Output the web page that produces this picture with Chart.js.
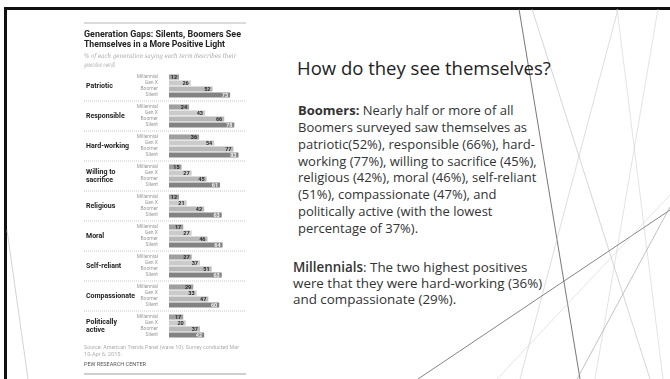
<!DOCTYPE html>
<html>
<head>
<meta charset="utf-8">
<script src="https://cdn.jsdelivr.net/npm/chart.js@4"></script>
<style>
  html, body { margin: 0; padding: 0; background: #fff; }
  #slide { position: relative; width: 670px; height: 379px; overflow: hidden; background: #fff; }
  #deco { position: absolute; left: 0; top: 0; }
  #chartBox { position: absolute; left: 80px; top: 18px; width: 172px; height: 361px; }
</style>
</head>
<body>
<div id="slide">
  <svg id="deco" width="670" height="379" xmlns="http://www.w3.org/2000/svg">
    <!-- slide frame -->
    <rect x="4" y="7" width="666" height="3" fill="#111"/>
    <rect x="4" y="7" width="3" height="372" fill="#111"/>
    <!-- theme lines -->
    <g fill="none">
      <line x1="519" y1="9" x2="580" y2="379" stroke="#555" stroke-width="0.8"/>
      <line x1="532" y1="9" x2="650" y2="379" stroke="#bbb" stroke-width="0.6"/>
      <line x1="618" y1="9" x2="520" y2="379" stroke="#c8c8c8" stroke-width="0.6"/>
      <line x1="617" y1="9" x2="663" y2="379" stroke="#d0d0d0" stroke-width="0.6"/>
      <line x1="658" y1="9" x2="595" y2="379" stroke="#d0d0d0" stroke-width="0.6"/>
      <line x1="418" y1="379" x2="670" y2="210" stroke="#666" stroke-width="0.8"/>
      <line x1="497" y1="379" x2="670" y2="195" stroke="#d4d4d4" stroke-width="0.6"/>
      <line x1="577" y1="379" x2="670" y2="207" stroke="#999" stroke-width="0.6"/>
      <line x1="7" y1="230" x2="28" y2="379" stroke="#c8c8c8" stroke-width="0.8"/>
    </g>
    <g font-family="Open Sans, sans-serif" fill="#222">
      <text x="297" y="75" font-size="18.5">How do they see themselves?</text>
      <g font-size="13" fill="#333">
        <text x="298" y="115"><tspan font-weight="bold">Boomers:</tspan> Nearly half or more of all</text>
        <text x="298" y="132">Boomers surveyed saw themselves as</text>
        <text x="298" y="149">patriotic(52%), responsible (66%), hard-</text>
        <text x="298" y="166">working (77%), willing to sacrifice (45%),</text>
        <text x="298" y="182">religious (42%), moral (46%), self-reliant</text>
        <text x="298" y="199">(51%), compassionate (47%), and</text>
        <text x="298" y="216">politically active (with the lowest</text>
        <text x="298" y="233">percentage of 37%).</text>
      </g>
      <g font-size="13.4" fill="#333">
        <text x="293" y="272"><tspan font-weight="600">Millennials</tspan>: The two highest positives</text>
        <text x="293" y="288">were that they were hard-working (36%)</text>
        <text x="293" y="304">and compassionate (29%).</text>
      </g>
    </g>
  </svg>
  <div id="chartBox"><canvas id="genChart"></canvas></div>
</div>

<script>
// --- Data ---
const categories = ['Patriotic', 'Responsible', 'Hard-working', 'Willing to\nsacrifice', 'Religious',
                    'Moral', 'Self-reliant', 'Compassionate', 'Politically\nactive'];
const generations = ['Millennial', 'Gen X', 'Boomer', 'Silent'];
const millennialValues = [12, 24, 36, 15, 12, 17, 27, 29, 17];
const genXValues = [26, 43, 54, 27, 21, 27, 37, 33, 20];
const boomerValues = [52, 66, 77, 45, 42, 46, 51, 47, 37];
const silentValues = [73, 78, 83, 61, 63, 64, 63, 60, 42];

const chartTitle = ['Generation Gaps: Silents, Boomers See', 'Themselves in a More Positive Light'];
const chartSubtitle = ['% of each generation saying each term describes their', 'generation overall'];
const sourceNote = ['Source: American Trends Panel (wave 10). Survey conducted Mar', '10-Apr 6, 2015.'];
const creditLine = 'PEW RESEARCH CENTER';

const genColors = ['#a0a0a0', '#cbcbcb', '#b8b8b8', '#838383'];
const valueColors = ['#2a2a2a', '#2a2a2a', '#2a2a2a', '#f4f4f4'];

// --- Build flat rows: 4 generation rows per term + an empty spacer row ---
const series = [millennialValues, genXValues, boomerValues, silentValues];
const rowLabels = [];
const rowValues = [];
const rowColors = [];
const rowGen = [];
categories.forEach((cat, i) => {
    generations.forEach((g, j) => {
        rowLabels.push(g);
        rowValues.push(series[j][i]);
        rowColors.push(genColors[j]);
        rowGen.push(j);
    });
    if (i < categories.length - 1) {
        rowLabels.push('');
        rowValues.push(null);
        rowColors.push('transparent');
        rowGen.push(-1);
    }
});

// canvas offset on the slide
const OX = 80, OY = 18;

const pewDecor = {
    id: 'pewDecor',
    afterDatasetsDraw(chart) {
        const ctx = chart.ctx;
        const xs = chart.scales.x, ys = chart.scales.y;
        const left = 84 - OX, right = 246 - OX;
        ctx.save();

        // top rule
        ctx.strokeStyle = '#cfcfcf';
        ctx.lineWidth = 1.5;
        ctx.beginPath(); ctx.moveTo(left, 23 - OY); ctx.lineTo(right, 23 - OY); ctx.stroke();
        // bottom rule
        ctx.lineWidth = 2;
        ctx.beginPath(); ctx.moveTo(left, 374 - OY); ctx.lineTo(right, 374 - OY); ctx.stroke();

        // title (squeezed to the condensed width of the original)
        ctx.fillStyle = '#222';
        ctx.textAlign = 'left';
        ctx.textBaseline = 'alphabetic';
        ctx.font = 'bold 9px Roboto, sans-serif';
        ctx.fillText(chartTitle[0], left, 37 - OY, 157);
        ctx.fillText(chartTitle[1], left, 47 - OY, 141);
        // subtitle
        ctx.fillStyle = '#a8a8a8';
        ctx.font = 'italic 6.5px "DejaVu Serif", serif';
        ctx.fillText(chartSubtitle[0], left, 58 - OY, 152);
        ctx.fillText(chartSubtitle[1], left, 66.5 - OY, 31);

        // dotted separators between groups
        ctx.strokeStyle = '#b8b8b8';
        ctx.lineWidth = 0.8;
        ctx.setLineDash([1, 1]);
        rowGen.forEach((g, r) => {
            if (g === -1) {
                const y = ys.getPixelForValue(r);
                ctx.beginPath(); ctx.moveTo(left, y); ctx.lineTo(right, y); ctx.stroke();
            }
        });
        ctx.setLineDash([]);

        // category labels
        ctx.fillStyle = '#222';
        ctx.font = 'bold 7px Roboto, sans-serif';
        ctx.textBaseline = 'middle';
        categories.forEach((cat, i) => {
            const r0 = i * 5;
            const yc = (ys.getPixelForValue(r0) + ys.getPixelForValue(r0 + 3)) / 2;
            const lines = cat.split('\n');
            lines.forEach((ln, k) => {
                const y = yc + (k - (lines.length - 1) / 2) * 7.5;
                ctx.fillText(ln, 86 - OX, y);
            });
        });

        // value labels at bar ends
        ctx.font = 'bold 5.5px Roboto, sans-serif';
        ctx.textAlign = 'right';
        rowValues.forEach((v, r) => {
            if (v === null) return;
            ctx.fillStyle = valueColors[rowGen[r]];
            ctx.fillText(String(v), xs.getPixelForValue(v) - 2, ys.getPixelForValue(r) + 0.3);
        });

        // source + credit
        ctx.textAlign = 'left';
        ctx.textBaseline = 'alphabetic';
        ctx.fillStyle = '#adadad';
        ctx.font = '6px Roboto, sans-serif';
        ctx.fillText(sourceNote[0], left, 349 - OY, 155);
        ctx.fillText(sourceNote[1], left, 355.5 - OY, 38);
        ctx.fillStyle = '#555';
        ctx.font = '5.5px Roboto, sans-serif';
        ctx.fillText(creditLine, left, 366 - OY, 62);

        ctx.restore();
    }
};

new Chart(document.getElementById('genChart'), {
    type: 'bar',
    data: {
        labels: rowLabels,
        datasets: [{
            data: rowValues,
            backgroundColor: rowColors,
            barPercentage: 0.85,
            categoryPercentage: 1
        }]
    },
    options: {
        indexAxis: 'y',
        responsive: true,
        maintainAspectRatio: false,
        animation: false,
        layout: { padding: { top: 56, bottom: 41, left: 0, right: 6 } },
        scales: {
            x: { display: false, min: 0, max: 92 },
            y: {
                grid: { display: false },
                border: { display: false },
                ticks: { autoSkip: false, color: '#9a9a9a', padding: 3, font: { size: 5, family: 'Roboto' } },
                afterFit: (scale) => { scale.width = 89; }
            }
        },
        plugins: {
            legend: { display: false },
            tooltip: { enabled: false }
        }
    },
    plugins: [pewDecor]
});
</script>
</body>
</html>
